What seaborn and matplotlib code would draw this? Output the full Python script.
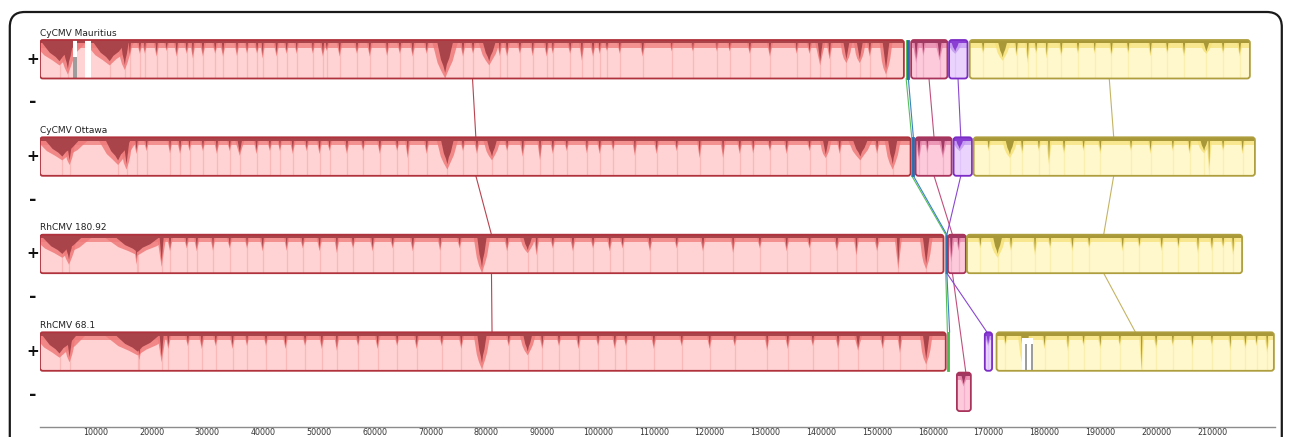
import numpy as np
import pandas as pd
import matplotlib
matplotlib.use("Agg")
import matplotlib.pyplot as plt
from matplotlib.patches import FancyBboxPatch, Polygon, Rectangle
import seaborn as sns

# ---- data (positions in kb) ----
genomes = ["CyCMV Mauritius", "CyCMV Ottawa", "RhCMV 180.92", "RhCMV 68.1"]

# aligned blocks: (lcb, start, end, strand)
mauritius_blocks = [("red", 0.0, 154.8, "+"), ("green", 155.1, 155.4, "+"), ("blue", 155.4, 155.7, "+"),
                    ("pink", 156.1, 162.6, "+"), ("purple", 162.9, 166.2, "+"), ("yellow", 166.6, 216.8, "+")]
ottawa_blocks = [("red", 0.0, 156.0, "+"), ("green", 156.1, 156.3, "+"), ("blue", 156.3, 156.7, "+"),
                 ("pink", 156.9, 163.35, "+"), ("purple", 163.7, 167.0, "+"), ("yellow", 167.3, 217.7, "+")]
rh180_blocks = [("red", 0.0, 161.9, "+"), ("green", 162.2, 162.4, "+"), ("blue", 162.4, 162.6, "+"),
                ("pink", 162.7, 165.9, "+"), ("yellow", 166.1, 215.4, "+")]
rh68_blocks = [("red", 0.0, 162.3, "+"), ("green", 162.5, 162.9, "+"), ("pink", 164.3, 166.8, "-"),
               ("purple", 169.3, 170.6, "+"), ("yellow", 171.4, 221.1, "+")]

# connecting-line anchor per lcb, one per genome (kb)
lcb_anchors = {
    "red": [77.5, 78.1, 80.9, 81.0],
    "pink": [159.3, 160.2, 163.5, 165.9],
    "purple": [164.5, 165.0, 162.5, 169.7],
    "yellow": [191.6, 192.4, 190.6, 196.3],
    "green": [155.2, 156.2, 162.3, 162.6],
    "blue": [155.6, 156.5, 162.5, 163.0],
}

# similarity-profile dips: (centre kb, width kb, depth fraction)
mauritius_red_dips = [(3.5, 7.0, 0.55), (5.0, 2.0, 0.75), (12.5, 6.5, 0.55), (15.2, 1.5, 0.65), (18.8, 0.4, 0.3),
                      (27.4, 0.4, 0.4), (35.3, 0.4, 0.35), (37.1, 0.4, 0.3), (39.9, 0.4, 0.4), (46.0, 0.4, 0.3),
                      (48.9, 0.4, 0.3), (62.2, 0.4, 0.35), (72.6, 3.0, 0.85), (80.5, 2.5, 0.55), (82.4, 0.4, 0.35),
                      (88.3, 0.4, 0.35), (91.9, 0.4, 0.3), (97.1, 0.4, 0.45), (100.3, 0.4, 0.3), (103.9, 0.4, 0.3),
                      (113.2, 0.3, 0.25), (117.0, 0.4, 0.25), (121.3, 0.3, 0.25), (123.6, 0.4, 0.25),
                      (135.6, 0.4, 0.3), (139.8, 1.0, 0.55), (144.5, 1.2, 0.5), (146.9, 1.2, 0.5), (151.6, 1.3, 0.75)]
ottawa_red_dips = [(4.0, 7.0, 0.5), (5.3, 1.2, 0.6), (14.0, 5.0, 0.6), (15.5, 1.2, 0.7), (23.3, 0.4, 0.35),
                   (26.8, 0.4, 0.3), (35.8, 1.0, 0.4), (43.0, 0.4, 0.3), (65.9, 0.4, 0.45), (73.0, 2.5, 0.7),
                   (81.0, 2.0, 0.5), (89.6, 0.4, 0.5), (98.0, 0.4, 0.35), (102.7, 0.4, 0.3), (106.6, 0.4, 0.4),
                   (118.2, 0.4, 0.45), (122.4, 0.4, 0.45), (127.8, 0.4, 0.35), (140.8, 1.2, 0.45),
                   (147.0, 3.0, 0.5), (152.8, 1.8, 0.7)]
rh180_red_dips = [(4.0, 8.0, 0.5), (5.2, 1.8, 0.65), (17.5, 9.0, 0.45), (17.3, 0.6, 0.65), (21.8, 0.8, 0.7),
                  (31.0, 0.4, 0.35), (37.1, 0.4, 0.3), (44.2, 0.4, 0.35), (53.2, 0.4, 0.4), (71.7, 0.4, 0.35),
                  (79.2, 1.8, 0.85), (87.4, 1.8, 0.4), (89.0, 0.4, 0.45), (124.2, 0.4, 0.4), (146.3, 0.4, 0.45),
                  (153.8, 0.6, 0.75), (158.8, 1.3, 0.75)]
rh68_red_dips = [(3.5, 7.0, 0.55), (5.3, 1.2, 0.65), (17.5, 9.0, 0.5), (17.8, 1.0, 0.6), (21.8, 0.8, 0.65),
                 (37.1, 0.4, 0.3), (53.2, 0.4, 0.4), (79.2, 1.8, 0.8), (87.4, 1.8, 0.5), (130.3, 0.4, 0.4),
                 (146.6, 0.8, 0.4), (154.1, 0.4, 0.45), (158.8, 1.3, 0.7)]
mauritius_pink_dips = [(157.0, 0.6, 0.5), (158.3, 0.4, 0.35), (161.2, 0.8, 0.45)]
ottawa_pink_dips = [(157.5, 0.6, 0.5), (159.0, 0.4, 0.35), (161.8, 0.8, 0.45)]
rh180_pink_dips = [(163.3, 0.5, 0.6), (164.6, 0.4, 0.35)]
rh68_pink_dips = [(165.5, 1.0, 0.3)]
mauritius_purple_dips = [(164.0, 1.6, 0.3)]
ottawa_purple_dips = [(164.8, 1.6, 0.3)]
rh68_purple_dips = [(169.9, 0.8, 0.3)]
mauritius_yellow_dips = [(172.5, 1.8, 0.45), (177.0, 0.4, 0.5), (180.4, 0.4, 0.4), (189.0, 0.4, 0.3),
                         (209.0, 1.3, 0.3)]
ottawa_yellow_dips = [(173.8, 1.8, 0.45), (180.8, 0.4, 0.6), (208.6, 1.6, 0.35), (209.5, 0.3, 0.75)]
rh180_yellow_dips = [(171.6, 1.8, 0.5), (178.3, 0.4, 0.45), (207.5, 0.4, 0.4), (213.8, 0.4, 0.45)]
rh68_yellow_dips = [(176.5, 1.5, 0.9), (184.2, 0.4, 0.4), (197.4, 0.3, 1.0), (213.3, 0.4, 0.4),
                    (219.9, 0.4, 0.45)]

# small spikes along the profile: (position kb, depth fraction)
mauritius_grass = [(16.1, 0.3), (17.9, 0.25), (20.9, 0.3), (22.7, 0.2), (24.5, 0.3), (26.3, 0.25), (29.2, 0.3),
                   (31.4, 0.25), (32.8, 0.3), (38.9, 0.25), (42.4, 0.3), (44.2, 0.25), (50.7, 0.3), (51.4, 0.2),
                   (53.7, 0.3), (56.8, 0.25), (59.1, 0.3), (64.5, 0.25), (66.8, 0.3), (69.3, 0.25), (75.8, 0.3),
                   (77.6, 0.25), (83.7, 0.3), (86.0, 0.25), (90.8, 0.3), (95.0, 0.25), (99.1, 0.3), (101.6, 0.2),
                   (108.0, 0.3), (127.2, 0.25), (130.8, 0.3), (137.9, 0.25), (141.5, 0.35), (148.7, 0.3),
                   (166.6, 0.2), (169.0, 0.25), (175.0, 0.3), (178.5, 0.25), (183.0, 0.3), (186.0, 0.25),
                   (192.0, 0.3), (195.0, 0.25), (199.0, 0.3), (202.0, 0.25), (205.0, 0.3), (212.0, 0.25),
                   (215.0, 0.3)]
ottawa_grass = [(17.3, 0.3), (19.1, 0.25), (25.1, 0.3), (29.2, 0.25), (31.7, 0.3), (34.0, 0.25), (38.8, 0.3),
                (41.2, 0.25), (45.3, 0.3), (47.8, 0.25), (50.1, 0.3), (51.9, 0.25), (55.0, 0.3), (57.9, 0.25),
                (60.9, 0.3), (64.0, 0.25), (69.3, 0.3), (75.8, 0.25), (78.3, 0.3), (83.7, 0.25), (86.5, 0.35),
                (91.9, 0.3), (94.4, 0.25), (100.3, 0.3), (110.5, 0.3), (114.1, 0.25), (125.4, 0.3),
                (130.8, 0.25), (133.8, 0.3), (137.9, 0.25), (143.3, 0.3), (150.0, 0.3), (170.0, 0.25),
                (176.0, 0.3), (179.0, 0.25), (183.5, 0.3), (187.0, 0.25), (190.0, 0.3), (195.5, 0.25),
                (199.0, 0.3), (203.0, 0.25), (206.0, 0.3), (212.0, 0.25), (215.5, 0.3)]
rh180_grass = [(23.3, 0.3), (26.3, 0.25), (28.1, 0.3), (34.0, 0.25), (39.9, 0.3), (47.1, 0.25), (50.1, 0.3),
               (56.1, 0.25), (59.6, 0.3), (63.2, 0.25), (66.8, 0.3), (75.2, 0.25), (83.7, 0.3), (91.9, 0.25),
               (95.5, 0.3), (99.1, 0.25), (102.1, 0.3), (104.4, 0.25), (109.3, 0.3), (114.1, 0.25),
               (118.8, 0.3), (129.0, 0.25), (133.8, 0.3), (137.9, 0.25), (142.8, 0.3), (150.0, 0.3),
               (168.5, 0.25), (174.0, 0.3), (181.0, 0.25), (185.0, 0.3), (188.0, 0.25), (194.0, 0.3),
               (197.0, 0.25), (201.0, 0.3), (204.0, 0.25), (210.0, 0.3), (212.0, 0.25)]
rh68_grass = [(23.0, 0.3), (26.5, 0.25), (29.0, 0.3), (31.5, 0.25), (34.5, 0.3), (40.5, 0.25), (44.0, 0.3),
              (47.5, 0.25), (50.5, 0.3), (57.0, 0.25), (60.5, 0.3), (64.0, 0.25), (67.5, 0.3), (72.0, 0.25),
              (75.5, 0.3), (84.0, 0.25), (90.0, 0.3), (93.0, 0.25), (96.5, 0.3), (100.0, 0.25), (103.0, 0.3),
              (105.0, 0.25), (110.0, 0.3), (115.0, 0.25), (120.0, 0.3), (124.5, 0.25), (134.0, 0.3),
              (138.5, 0.25), (143.0, 0.3), (151.0, 0.3), (173.0, 0.25), (180.0, 0.3), (187.0, 0.25),
              (190.0, 0.3), (193.5, 0.25), (200.0, 0.3), (203.0, 0.25), (206.5, 0.3), (210.0, 0.25),
              (216.0, 0.3), (218.0, 0.25)]

# unaligned holes inside blocks: (genome, start, end, top depth)
white_gaps = [(0, 8.0, 9.2, 0.0), (0, 6.0, 6.6, 0.0), (3, 176.0, 178.0, 0.15)]
grey_lines = [(0, 6.1, 0.45), (0, 6.5, 0.45), (3, 176.6, 0.3), (3, 177.8, 0.3)]

tick_values = [10, 20, 30, 40, 50, 60, 70, 80, 90, 100, 110, 120, 130, 140, 150, 160, 170, 180, 190, 200, 210]

blocks = [mauritius_blocks, ottawa_blocks, rh180_blocks, rh68_blocks]
grass = [mauritius_grass, ottawa_grass, rh180_grass, rh68_grass]
dips = {
    (0, "red"): mauritius_red_dips, (1, "red"): ottawa_red_dips, (2, "red"): rh180_red_dips, (3, "red"): rh68_red_dips,
    (0, "pink"): mauritius_pink_dips, (1, "pink"): ottawa_pink_dips, (2, "pink"): rh180_pink_dips,
    (3, "pink"): rh68_pink_dips, (0, "purple"): mauritius_purple_dips, (1, "purple"): ottawa_purple_dips,
    (3, "purple"): rh68_purple_dips, (0, "yellow"): mauritius_yellow_dips, (1, "yellow"): ottawa_yellow_dips,
    (2, "yellow"): rh180_yellow_dips, (3, "yellow"): rh68_yellow_dips,
}

# ---- styles ----
colors = {
    "red": dict(edge="#b0323c", light="#ffd3d3", mid="#f07a7a", dark="#a8444a", streak="#f7a8a8", line="#b8434e"),
    "pink": dict(edge="#a8345c", light="#fccadb", mid="#e886aa", dark="#a03a62", streak="#f0a0bf", line="#c0507a"),
    "purple": dict(edge="#7a2cc4", light="#ead4fd", mid="#c49af0", dark="#8a3ed4", streak="#d8b8fa", line="#8a48d0"),
    "yellow": dict(edge="#ae9e3e", light="#fff8cc", mid="#f6e27a", dark="#a89838", streak="#f8ea9c", line="#c4b464"),
    "green": dict(edge="#4cb84c", light="#4cb84c", mid="#4cb84c", dark="#4cb84c", streak="#4cb84c", line="#58c058"),
    "blue": dict(edge="#2a6cb4", light="#2a6cb4", mid="#2a6cb4", dark="#2a6cb4", streak="#2a6cb4", line="#3a80c8"),
}
W, H = 1292, 437
XMAX = 221.3
row_tops = [40.0, 137.3, 234.7, 332.3]
BLOCK_H = 38.5
MINUS_OFF = 40.3
KB_PER_PX = XMAX / 1235
ASPECT = 1 / KB_PER_PX

sns.set_theme(style="white")
plt.rcParams["font.family"] = ["DejaVu Sans"]

fig = plt.figure(figsize=(W / 100, H / 100), dpi=100)
ax = fig.add_axes([40 / W, 10 / H, 1235 / W, 427 / H])
ax.set_xlim(0, XMAX)
ax.set_ylim(427, 0)


def block_top(g, strand):
    return row_tops[g] + (MINUS_OFF if strand == "-" else 0)


def dip_shape(cx, w, d, top, h):
    if w < 1.5:
        return [(cx - w / 2, top), (cx + w / 2, top), (cx, top + d * h)]
    return [(cx - w / 2, top), (cx - w / 4, top + 0.6 * d * h), (cx - w / 10, top + 0.8 * d * h),
            (cx, top + d * h), (cx + w / 10, top + 0.75 * d * h), (cx + w / 4, top + 0.55 * d * h),
            (cx + w / 2, top)]


def draw_block(g, lcb, s, e, strand):
    c = colors[lcb]
    top = block_top(g, strand)
    h = BLOCK_H
    if e - s < 0.8:
        ax.add_patch(Rectangle((s, top), e - s, h, fc=c["edge"], ec=c["edge"], lw=0.6, zorder=3))
        return
    r = min(0.5, (e - s) / 2)
    style = f"round,pad=0,rounding_size={r}"
    base = FancyBboxPatch((s, top), e - s, h, boxstyle=style, mutation_aspect=ASPECT,
                          fc=c["light"], ec="none", zorder=1)
    ax.add_patch(base)
    arts = [Rectangle((s, top), e - s, 0.2 * h, fc=c["mid"], ec="none", alpha=0.75, zorder=2),
            Rectangle((s, top), e - s, 0.09 * h, fc=c["dark"], ec="none", zorder=2.2)]
    spikes = [(x, 0.5, d * 1.2) for x, d in grass[g] if s < x < e] + dips.get((g, lcb), [])
    for cx, w, d in spikes:
        arts.append(ax.vlines(cx, top, top + h, color=c["streak"], alpha=0.6, lw=0.9, zorder=1.5))
        mid = [(px + (0.3 if px > cx else -0.3 if px < cx else 0), top + (py - top) * 1.2)
               for px, py in dip_shape(cx, w * 1.4, min(d, 0.83), top, h)]
        arts.append(Polygon(mid, closed=True, fc=c["mid"], ec="none", alpha=0.85, zorder=2.1))
        arts.append(Polygon(dip_shape(cx, w, d, top, h), closed=True, fc=c["dark"], ec="none", zorder=2.3))
    for gg, gs, ge, gd in white_gaps:
        if gg == g and s <= gs <= e:
            arts.append(Rectangle((gs, top + gd * h), ge - gs, h, fc="white", ec="none", zorder=2.5))
    for gg, gx, gd in grey_lines:
        if gg == g and s <= gx <= e:
            arts.append(ax.vlines(gx, top + gd * h, top + h, color="#8a8a8a", lw=1.2, zorder=2.6))
    for a in arts:
        if isinstance(a, (Rectangle, Polygon)):
            ax.add_patch(a)
        a.set_clip_path(base)
    ax.add_patch(FancyBboxPatch((s, top), e - s, h, boxstyle=style, mutation_aspect=ASPECT,
                                fc="none", ec=c["edge"], lw=1.3, zorder=3))


for g, blist in enumerate(blocks):
    for lcb, s, e, strand in blist:
        draw_block(g, lcb, s, e, strand)

# connecting lines between consecutive genomes
rows = []
for lcb, anchors in lcb_anchors.items():
    for g in range(len(genomes) - 1):
        st0 = next((b[3] for b in blocks[g] if b[0] == lcb), "+")
        st1 = next((b[3] for b in blocks[g + 1] if b[0] == lcb), "+")
        seg = f"{lcb}{g}"
        rows.append(dict(seg=seg, lcb=lcb, x=anchors[g], y=block_top(g, st0) + BLOCK_H))
        rows.append(dict(seg=seg, lcb=lcb, x=anchors[g + 1], y=block_top(g + 1, st1)))
links = pd.DataFrame(rows)
sns.lineplot(data=links, x="x", y="y", hue="lcb", units="seg", estimator=None, sort=False,
             palette={k: v["line"] for k, v in colors.items()}, legend=False, lw=0.8, ax=ax, zorder=0.5)

# labels and strand markers
for g, name in enumerate(genomes):
    top = row_tops[g]
    ax.text(0.05, top - 2.5, name, fontsize=6.5, color="#222222", va="bottom", ha="left", clip_on=False)
    ax.text(-7.2 * KB_PER_PX, top + BLOCK_H / 2, "+", fontsize=11, fontweight="bold", ha="center",
            va="center", color="#111111", clip_on=False)
    ax.text(-7.2 * KB_PER_PX, top + BLOCK_H / 2 + 43, "-", fontsize=13, fontweight="bold", ha="center",
            va="center", color="#111111", clip_on=False)

# outer rounded frame
ax.add_patch(FancyBboxPatch((-30.2 * KB_PER_PX, 12), 1272 * KB_PER_PX, 480,
                            boxstyle=f"round,pad=0,rounding_size={15 * KB_PER_PX}", mutation_aspect=ASPECT,
                            fc="none", ec="#1a1a1a", lw=1.6, clip_on=False, zorder=5))

# axis
ax.set_xticks(tick_values)
ax.set_xticklabels([f"{v * 1000}" for v in tick_values])
ax.set_yticks([])
ax.set_xlabel("")
ax.set_ylabel("")
for side in ["top", "left", "right"]:
    ax.spines[side].set_visible(False)
ax.spines["bottom"].set_color("#8c8c8c")
ax.spines["bottom"].set_linewidth(1.0)
ax.tick_params(axis="x", length=0, pad=0.8, labelsize=5.8, labelcolor="#333333")
ax.set_facecolor("white")

fig.savefig("out.png", dpi=100)
